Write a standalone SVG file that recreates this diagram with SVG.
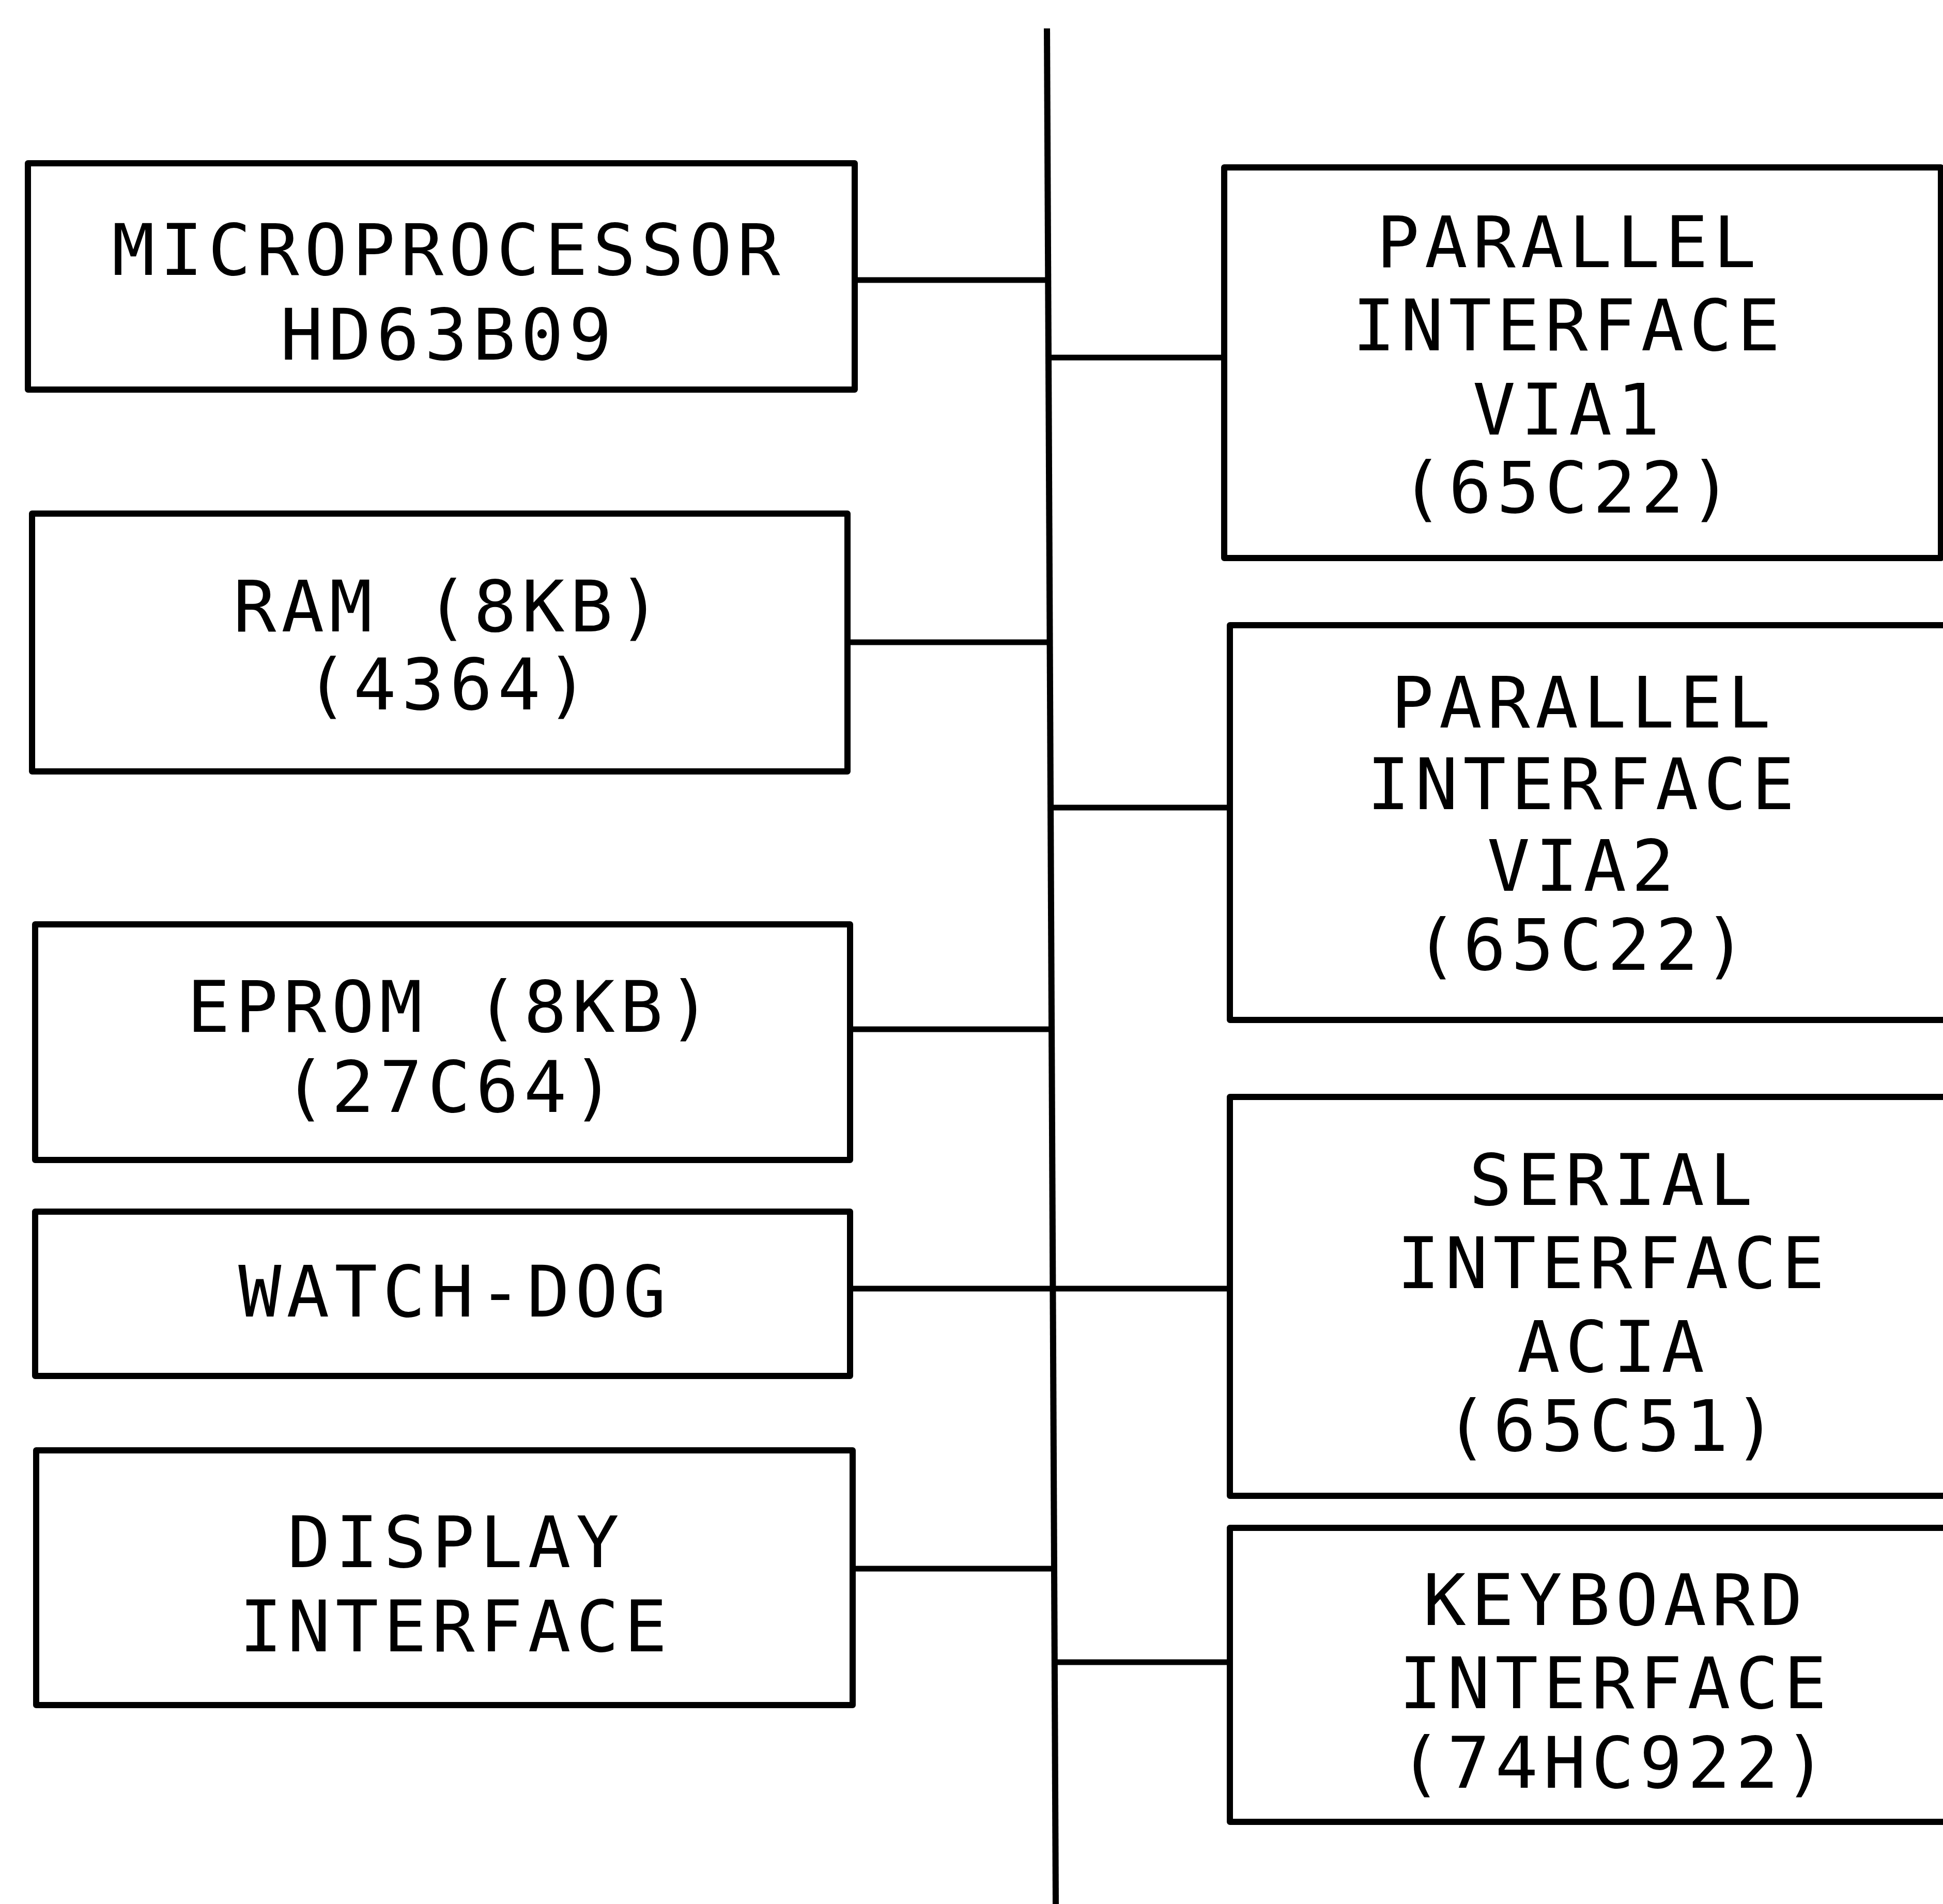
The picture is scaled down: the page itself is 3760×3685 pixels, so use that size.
<svg xmlns="http://www.w3.org/2000/svg" width="3760" height="3685" viewBox="0 0 3760 3685">
<style>
.box{fill:none;stroke:#000;stroke-width:12;stroke-linejoin:round}
.wire{fill:none;stroke:#000;stroke-width:11;stroke-linecap:butt}
.bus{fill:none;stroke:#000;stroke-width:12}
text{font-family:"DejaVu Sans Mono","Liberation Mono",monospace;font-size:138px;letter-spacing:10px;text-anchor:middle;fill:#000}
</style>
<rect width="3760" height="3685" fill="#fff"/>
<g id="connectors">
<path class="bus" d="M2026 55 L2043 3685"/>
<path class="wire" d="M1654 542 H2029"/>
<path class="wire" d="M2029 692 H2372"/>
<path class="wire" d="M1640 1243 H2031"/>
<path class="wire" d="M2032 1563 H2380"/>
<path class="wire" d="M1645 1992 H2034"/>
<path class="wire" d="M1645 2494 H2380"/>
<path class="wire" d="M1650 3036 H2039"/>
<path class="wire" d="M2040 3217 H2380"/>
</g>
<g id="microprocessor">
<rect class="box" x="54" y="316" width="1600" height="438"/>
<text x="868" y="532">MICROPROCESSOR</text>
<text x="868" y="696">HD63B09</text>
</g>
<g id="ram">
<rect class="box" x="62" y="994" width="1578" height="499"/>
<text x="870" y="1222">RAM (8KB)</text>
<text x="870" y="1373">(4364)</text>
</g>
<g id="eprom">
<rect class="box" x="68" y="1789" width="1577" height="456"/>
<text x="874" y="1997">EPROM (8KB)</text>
<text x="874" y="2152">(27C64)</text>
</g>
<g id="watchdog">
<rect class="box" x="68" y="2345" width="1577" height="318"/>
<text x="880" y="2548">WATCH-DOG</text>
</g>
<g id="display">
<rect class="box" x="70" y="2807" width="1580" height="493"/>
<text x="882" y="3033">DISPLAY</text>
<text x="882" y="3196">INTERFACE</text>
</g>
<g id="via1">
<rect class="box" x="2369" y="324" width="1387" height="756"/>
<text x="3036" y="517">PARALLEL</text>
<text x="3036" y="678">INTERFACE</text>
<text x="3036" y="841">VIA1</text>
<text x="3036" y="992">(65C22)</text>
</g>
<g id="via2">
<rect class="box" x="2380" y="1210" width="1400" height="764"/>
<text x="3064" y="1408">PARALLEL</text>
<text x="3064" y="1566">INTERFACE</text>
<text x="3064" y="1724">VIA2</text>
<text x="3064" y="1877">(65C22)</text>
</g>
<g id="acia">
<rect class="box" x="2380" y="2123" width="1400" height="772"/>
<text x="3122" y="2332">SERIAL</text>
<text x="3122" y="2493">INTERFACE</text>
<text x="3122" y="2655">ACIA</text>
<text x="3122" y="2808">(65C51)</text>
</g>
<g id="keyboard">
<rect class="box" x="2380" y="2957" width="1400" height="569"/>
<text x="3126" y="3145">KEYBOARD</text>
<text x="3126" y="3306">INTERFACE</text>
<text x="3126" y="3460">(74HC922)</text>
</g>
</svg>
